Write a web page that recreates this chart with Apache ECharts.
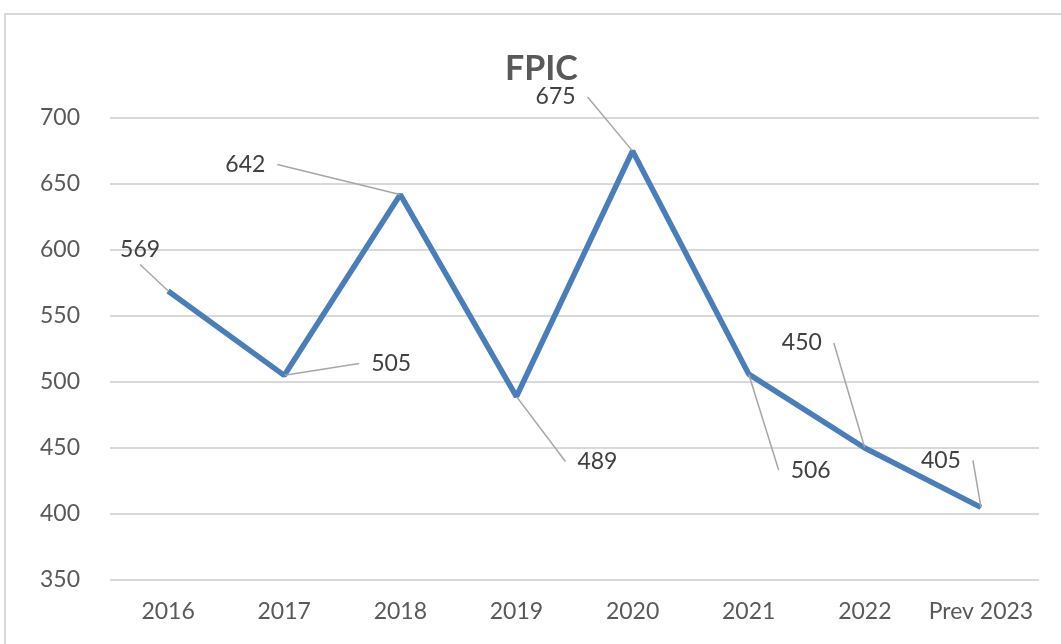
<!DOCTYPE html>
<html>
<head>
<meta charset="utf-8">
<title>FPIC</title>
<script src="https://cdn.jsdelivr.net/npm/echarts@6/dist/echarts.min.js"></script>
<style>
    html, body { margin: 0; padding: 0; background: #fff; }
    #chart { width: 1061px; height: 644px; }
</style>
</head>
<body>
<div id="chart"></div>
<script>
// dati
const categories = ['2016', '2017', '2018', '2019', '2020', '2021', '2022', 'Prev 2023']
const fpicValues = [569, 505, 642, 489, 675, 506, 450, 405]
const yTicks = { min: 350, max: 700, interval: 50 }

// spostamento etichette (px) rispetto al punto, come nel grafico excel
const labelShift = [
    [-28, -41],
    [107, -12],
    [-155, -30],
    [81, 65],
    [-77, -54],
    [62, 96],
    [-63, -105],
    [-40, -47]
]

const myChart = echarts.init(document.getElementById('chart'))
const option = {
    backgroundColor: '#fff',
    animation: false,
    graphic: [
        {
            type: 'rect',
            shape: { x: 5, y: 14, width: 1080, height: 660 },
            style: { fill: 'none', stroke: '#d9d9d9', lineWidth: 2 },
            silent: true
        }
    ],
    title: {
        text: 'FPIC',
        left: 500,
        top: 47,
        textStyle: {
            fontFamily: 'Lato',
            fontWeight: 'bold',
            fontSize: 34,
            color: '#595959'
        }
    },
    grid: {
        left: 110,
        right: 22,
        top: 118,
        bottom: 64
    },
    xAxis: {
        type: 'category',
        data: categories,
        boundaryGap: true,
        axisLine: { show: false },
        axisTick: { show: false },
        axisLabel: {
            interval: 0,
            margin: 20,
            fontFamily: 'Lato',
            fontSize: 23,
            color: '#595959'
        }
    },
    yAxis: {
        type: 'value',
        min: yTicks.min,
        max: yTicks.max,
        interval: yTicks.interval,
        axisLine: { show: false },
        axisTick: { show: false },
        axisLabel: {
            margin: 30,
            fontFamily: 'Lato',
            fontSize: 23,
            color: '#595959'
        },
        splitLine: {
            lineStyle: { color: '#d9d9d9', width: 2 }
        }
    },
    series: [
        {
            name: 'FPIC',
            type: 'line',
            data: fpicValues,
            showSymbol: true,
            symbol: 'circle',
            symbolSize: 1,
            lineStyle: { color: '#4a7ebb', width: 5.5 },
            itemStyle: { color: '#4a7ebb' },
            label: {
                show: true,
                position: 'inside',
                padding: [3, 12],
                backgroundColor: 'rgba(255,255,255,0)',
                fontFamily: 'Lato',
                fontSize: 23,
                color: '#404040'
            },
            labelLine: {
                show: true,
                lineStyle: { color: '#a6a6a6', width: 1.5 }
            },
            labelLayout: (params) => {
                const s = labelShift[params.dataIndex]
                return { dx: s[0], dy: s[1] }
            }
        }
    ]
}
myChart.setOption(option)
</script>
</body>
</html>
